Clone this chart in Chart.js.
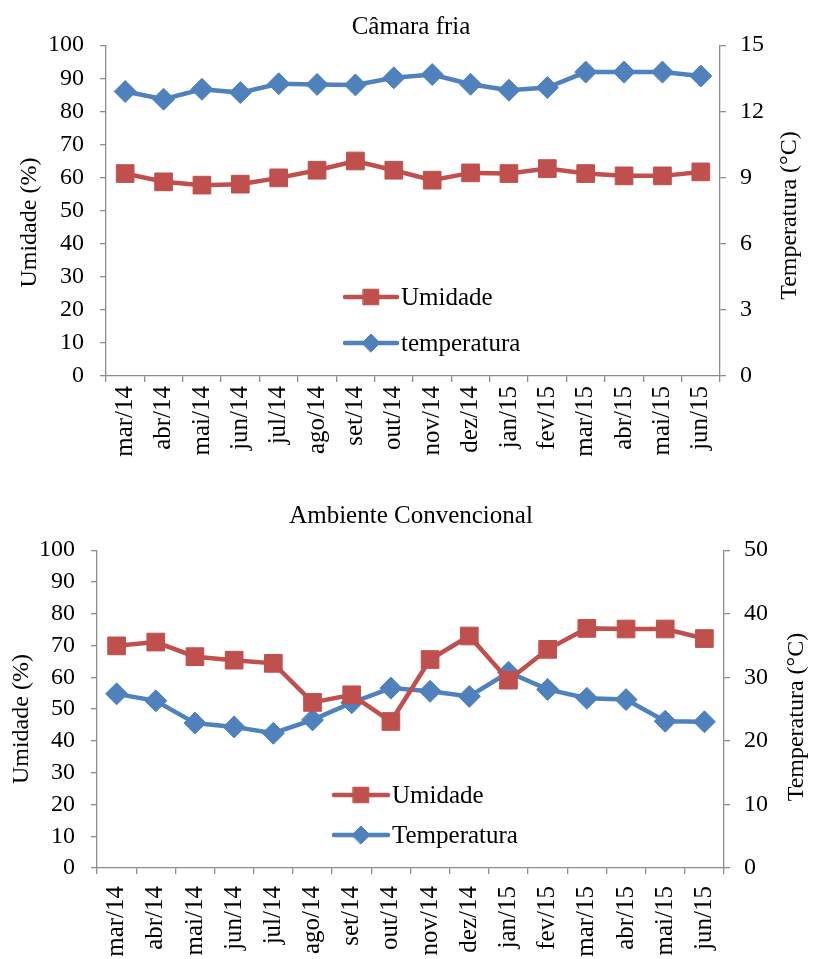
<!DOCTYPE html>
<html>
<head>
<meta charset="utf-8">
<script src="https://cdn.jsdelivr.net/npm/chart.js@4.4.1/dist/chart.umd.min.js"></script>
<style>
  html, body { margin: 0; padding: 0; background: #fff; overflow: hidden; width: 822px; height: 959px; }
  .box { position: absolute; left: 0; width: 822px; }
  #box-fria { top: 0; height: 480px; }
  #box-amb { top: 490px; height: 510px; }
</style>
</head>
<body>
<div class="box" id="box-fria"><canvas id="chartFria"></canvas></div>
<div class="box" id="box-amb"><canvas id="chartAmb"></canvas></div>
<script>
// meses
const meses = ['mar/14', 'abr/14', 'mai/14', 'jun/14', 'jul/14', 'ago/14', 'set/14', 'out/14',
               'nov/14', 'dez/14', 'jan/15', 'fev/15', 'mar/15', 'abr/15', 'mai/15', 'jun/15'];

// Câmara fria
const friaUmidade = [61.2, 58.7, 57.7, 58.0, 59.9, 62.2, 65.0, 62.2, 59.2, 61.4, 61.2, 62.7, 61.2, 60.5, 60.5, 61.7];
const friaTemp = [12.9, 12.55, 13.0, 12.85, 13.25, 13.22, 13.2, 13.52, 13.67, 13.23, 12.96, 13.08, 13.78, 13.78, 13.78, 13.6];

// Ambiente convencional
const ambUmidade = [69.9, 71.1, 66.5, 65.4, 64.4, 52.1, 54.5, 46.1, 65.6, 73.0, 59.1, 68.8, 75.4, 75.2, 75.2, 72.2];
const ambTemp = [27.4, 26.3, 22.8, 22.2, 21.2, 23.3, 26.0, 28.3, 27.8, 27.0, 30.8, 28.1, 26.7, 26.5, 23.1, 23.0];

const FAMILY = '"Liberation Serif", "Times New Roman", serif';
const RED = '#C0504D';
const BLUE = '#4F81BD';
const AXIS = '#8C8C8C';

Chart.defaults.font.family = FAMILY;
Chart.defaults.font.size = 24;
Chart.defaults.color = '#000';

function rotatedText(ctx, text, x, y) {
    ctx.save();
    ctx.font = '24px ' + FAMILY;
    ctx.fillStyle = '#000';
    ctx.translate(x, y);
    ctx.rotate(-Math.PI / 2);
    ctx.textAlign = 'center';
    ctx.textBaseline = 'middle';
    ctx.fillText(text, 0, 0);
    ctx.restore();
}

// títulos dos eixos (lidos de baixo para cima) + legenda dentro da área
const extras = {
    id: 'extras',
    afterDraw(chart, args, opts) {
        const ctx = chart.ctx;
        const area = chart.chartArea;
        const mid = (area.top + area.bottom) / 2;

        rotatedText(ctx, 'Umidade (%)', opts.leftTitleX, mid + opts.leftTitleShift);
        rotatedText(ctx, 'Temperatura (°C)', opts.rightTitleX, mid + opts.rightTitleShift);

        chart.data.datasets.forEach((ds, i) => {
            const y = opts.legendY[i];
            const x0 = opts.legendX;
            ctx.save();
            ctx.strokeStyle = ds.borderColor;
            ctx.lineWidth = 4.5;
            ctx.lineCap = 'round';
            ctx.beginPath();
            ctx.moveTo(x0, y);
            ctx.lineTo(x0 + opts.legendLine, y);
            ctx.stroke();
            ctx.fillStyle = ds.backgroundColor;
            ctx.strokeStyle = ds.borderColor;
            ctx.lineWidth = 1;
            Chart.helpers.drawPoint(ctx, {
                pointStyle: ds.pointStyle,
                radius: ds.pointStyle === 'rect' ? 11 : 9,
                rotation: 0,
                borderWidth: 1
            }, x0 + opts.legendLine / 2, y);
            ctx.font = '25px ' + FAMILY;
            ctx.fillStyle = '#000';
            ctx.textAlign = 'left';
            ctx.textBaseline = 'middle';
            ctx.fillText(ds.label, x0 + opts.legendLine + 4, y + 1);
            ctx.restore();
        });
    }
};

function makeChart(id, cfg) {
    const fixWidth = w => scale => { scale.width = w; };
    return new Chart(document.getElementById(id), {
        type: 'line',
        data: {
            labels: meses,
            datasets: [{
                label: 'Umidade',
                data: cfg.umidade,
                yAxisID: 'y',
                borderColor: RED,
                backgroundColor: RED,
                borderWidth: 4.5,
                pointStyle: 'rect',
                pointRadius: 12.5,
                pointBorderWidth: 1,
                tension: 0,
            }, {
                label: cfg.tempLabel,
                data: cfg.temp,
                yAxisID: 'y1',
                borderColor: BLUE,
                backgroundColor: BLUE,
                borderWidth: 4.5,
                pointStyle: 'rectRot',
                pointRadius: 11,
                pointBorderWidth: 1,
                tension: 0,
            }]
        },
        options: {
            responsive: true,
            maintainAspectRatio: false,
            animation: false,
            layout: { padding: 0 },
            plugins: {
                legend: { display: false },
                tooltip: { enabled: false },
                title: {
                    display: true,
                    text: cfg.title,
                    font: { size: 25, weight: 'normal' },
                    color: '#000',
                    padding: cfg.titlePadding,
                },
                extras: {
                    leftTitleX: cfg.leftTitleX,
                    leftTitleShift: cfg.leftTitleShift,
                    rightTitleX: cfg.rightTitleX,
                    rightTitleShift: cfg.rightTitleShift,
                    legendX: cfg.legendX,
                    legendY: cfg.legendY,
                    legendLine: cfg.legendLine,
                }
            },
            scales: {
                x: {
                    offset: true,
                    afterFit: scale => { scale.height = cfg.xHeight; },
                    grid: { offset: true, drawOnChartArea: false, tickLength: 6, color: AXIS, lineWidth: 1.3 },
                    border: { color: AXIS, width: 1.3 },
                    ticks: { minRotation: 90, maxRotation: 90, padding: cfg.xPad, autoSkip: false, font: { size: 25 } },
                },
                y: {
                    position: 'left',
                    min: 0, max: 100,
                    afterFit: fixWidth(cfg.left),
                    grid: { drawOnChartArea: false, tickLength: 6, color: AXIS, lineWidth: 1.3 },
                    border: { color: AXIS, width: 1.3 },
                    ticks: { stepSize: 10, padding: 16, autoSkip: false, font: { size: 24 } },
                },
                y1: {
                    position: 'right',
                    min: 0, max: cfg.tempMax,
                    afterFit: fixWidth(822 - cfg.right),
                    grid: { drawOnChartArea: false, tickLength: 6, color: AXIS, lineWidth: 1.3 },
                    border: { color: AXIS, width: 1.3 },
                    ticks: { stepSize: cfg.tempStep, padding: 14, autoSkip: false, font: { size: 24 } },
                }
            }
        },
        plugins: [extras]
    });
}

makeChart('chartFria', {
    title: 'Câmara fria',
    umidade: friaUmidade,
    temp: friaTemp,
    tempLabel: 'temperatura',
    tempMax: 15,
    tempStep: 3,
    titlePadding: { top: 12, bottom: 3.2 },
    xHeight: 104,
    xPad: 4,
    left: 106,
    right: 720,
    leftTitleX: 30,
    leftTitleShift: 12,
    rightTitleX: 790,
    rightTitleShift: 5,
    legendX: 345,
    legendY: [297, 343],
    legendLine: 52,
});

makeChart('chartAmb', {
    title: 'Ambiente Convencional',
    umidade: ambUmidade,
    temp: ambTemp,
    tempLabel: 'Temperatura',
    tempMax: 50,
    tempStep: 10,
    titlePadding: { top: 11, bottom: 19.2 },
    xHeight: 132,
    xPad: 12,
    left: 97,
    right: 724,
    leftTitleX: 22,
    leftTitleShift: 10,
    rightTitleX: 797,
    rightTitleShift: 8,
    legendX: 334,
    legendY: [305, 345],
    legendLine: 54,
});
</script>
</body>
</html>
